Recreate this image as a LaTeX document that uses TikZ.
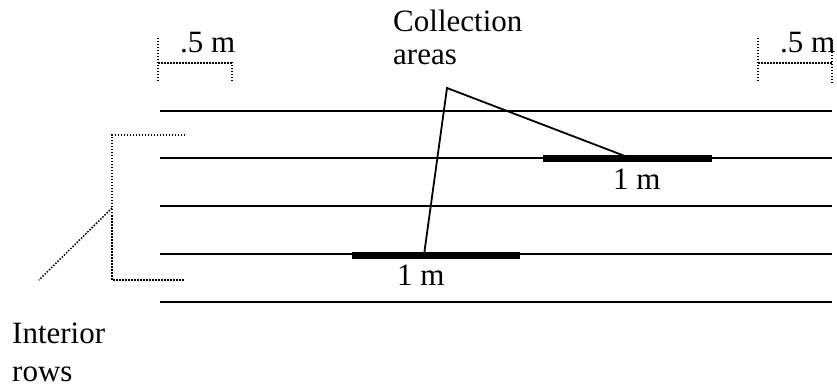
\documentclass[tikz,border=0pt]{standalone}
\usepackage{fontspec}
\setmainfont{Liberation Serif}
\begin{document}
\begin{tikzpicture}[x=1pt,y=-1pt,
  row/.style={line width=1.8pt},
  bar/.style={line width=7pt},
  leader/.style={line width=1.8pt},
  dots/.style={line width=1.5pt, dash pattern=on 1.5pt off 1.5pt},
  lbl/.style={inner sep=0pt, font=\fontsize{31}{36}\selectfont, align=left}]
\useasboundingbox (0,0) rectangle (837,387);
% rows
\foreach \y [count=\i] in {111,158,206,254,302}{
  \coordinate (r\i w) at (160,\y);
  \coordinate (r\i e) at (832,\y);
  \draw[row] (r\i w) -- (r\i e);
}
% collection bars
\coordinate (b1w) at (352,255); \coordinate (b1e) at (520,255);
\coordinate (b2w) at (543,159); \coordinate (b2e) at (712,159);
\draw[bar] (b1w) -- (b1e);
\draw[bar] (b2w) -- (b2e);
% leader
\coordinate (apex) at (447,88);
\coordinate (p1) at (424,255);
\coordinate (p2) at (630,158);
\draw[leader, line join=miter] (p1) -- (apex) -- (p2);
% labels (base anchor = baseline of last line)
\node[lbl, anchor=base west, font=\fontsize{31}{33}\selectfont] (coll) at (393,65) {Collection\\areas};
\node[lbl, anchor=base west] (m1) at (397,285) {1 m};
\node[lbl, anchor=base west] (m2) at (613,190) {1 m};
\node[lbl, anchor=base west] (hl) at (180,53) {.5 m};
\node[lbl, anchor=base west] (hr) at (780,53) {.5 m};
\node[lbl, anchor=base west, font=\fontsize{31}{38}\selectfont] (int) at (12,381) {Interior\\rows};
% dimension marks
\coordinate (dl1) at (158,38); \coordinate (dl2) at (158,83);
\coordinate (dl3) at (232,62); \coordinate (dl4) at (232,83);
\draw[dots] (dl1) -- (dl2);
\draw[dots] (dl3) -- (dl4);
\draw[dots] (158,63) -- (232,63);
\coordinate (dr1) at (758,38); \coordinate (dr2) at (758,83);
\coordinate (dr3) at (832,40); \coordinate (dr4) at (832,83);
\draw[dots] (dr1) -- (dr2);
\draw[dots] (dr3) -- (dr4);
\draw[dots] (758,63) -- (832,63);
% interior bracket
\coordinate (bt) at (185,135); \coordinate (btl) at (112,135);
\coordinate (bbl) at (112,280); \coordinate (bb) at (185,280);
\coordinate (bm) at (112,208); \coordinate (bx) at (39,280);
\draw[dots] (bt) -- (btl) -- (bbl) -- (bb);
\draw[dots] (bm) -- (bx);
\end{tikzpicture}
\end{document}
